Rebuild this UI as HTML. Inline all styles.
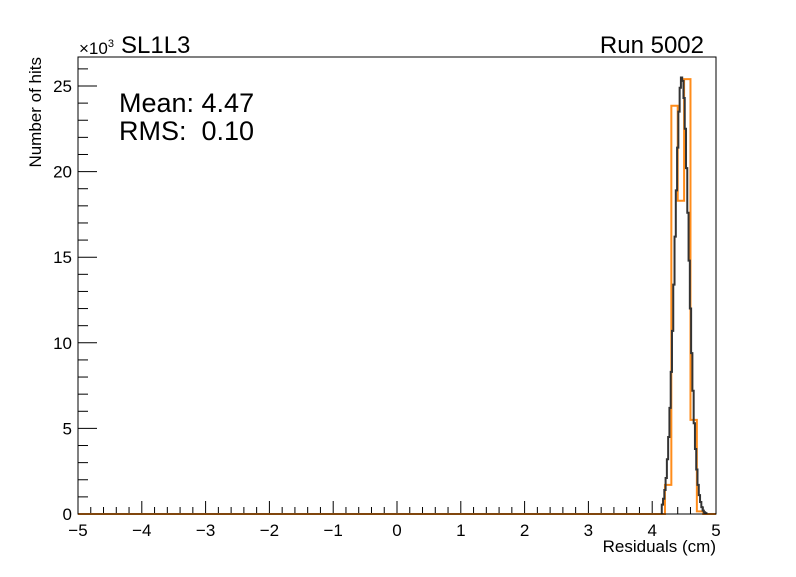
<!DOCTYPE html>
<html><head><meta charset="utf-8"><style>
body{margin:0;background:#fff;}
svg text{font-family:"Liberation Sans",sans-serif;}
</style></head><body>
<svg id="c" width="796" height="572" xmlns="http://www.w3.org/2000/svg">
<rect width="796" height="572" fill="#fff"/>
<g id="axes"></g>
<g id="marks"></g>
<rect x="78" y="57" width="638" height="457" fill="none" stroke="#000" stroke-width="1"/>
<text x="79" y="54" font-size="17">×10<tspan font-size="11" dy="-7">3</tspan></text>
<text x="121" y="53" font-size="24">SL1L3</text>
<text x="704" y="53" font-size="24" text-anchor="end">Run 5002</text>
<text x="119" y="112" font-size="27">Mean: 4.47</text>
<text x="119" y="140" font-size="27">RMS:&#160; 0.10</text>
<text x="716" y="552" font-size="17" text-anchor="end">Residuals (cm)</text>
<text transform="translate(41,57) rotate(-90)" font-size="17" text-anchor="end">Number of hits</text>
</svg>
<script>
const xTicks=[-5,-4,-3,-2,-1,0,1,2,3,4,5];
const yTicks=[0,5,10,15,20,25];
const coarseEdges=[4.2,4.3,4.4,4.5,4.6,4.7,4.8];
const coarseCounts=[1.7,23.85,18.3,25.4,5.5,0.15];
const fineX=[4.16,4.18,4.20,4.22,4.24,4.26,4.28,4.30,4.32,4.34,4.36,4.38,4.40,4.42,4.44,4.46,4.48,4.50,4.52,4.54,4.56,4.58,4.60,4.62,4.64,4.66,4.68,4.70,4.72,4.74,4.76,4.78,4.80,4.82,4.84];
const fineY=[0.55,0.89,1.4,2.1,3.2,4.5,6.2,8.3,10.7,13.4,16.2,18.9,21.4,23.5,24.9,25.5,25.3,24.3,22.5,20.2,17.6,14.8,12.0,9.4,7.2,5.3,3.8,2.6,1.7,1.1,0.7,0.4,0.2,0.1,0.05];
const X=v=>78+(v+5)*63.8, Y=v=>514-v*17.12;
const NS="http://www.w3.org/2000/svg";
const ax=document.getElementById('axes'), mk=document.getElementById('marks');
function el(t,a,p){const e=document.createElementNS(NS,t);for(const k in a)e.setAttribute(k,a[k]);p.appendChild(e);return e;}
for(let i=0;i<=50;i++){const v=-5+i*0.2;const major=i%5===0;
 const l=el('line',{x1:X(v),x2:X(v),y1:514,y2:514-(major?13:7),stroke:'#000'},ax);
 
 }
xTicks.forEach(v=>{const t=el('text',{x:X(v),y:536,'font-size':17,'text-anchor':'middle'},ax);t.textContent=v<0?'\u2212'+(-v):v;
 
 });
for(let v=0;v<=26;v++){const major=v%5===0;
 const l=el('line',{x1:78,x2:78+(major?19:10),y1:Y(v),y2:Y(v),stroke:'#000'},ax);
 
 }
yTicks.forEach(v=>{const t=el('text',{x:72,y:Y(v)+6,'font-size':17,'text-anchor':'end'},ax);t.textContent=v;
 
 });
let d='M'+X(-5)+','+Y(0)+' L'+X(coarseEdges[0])+','+Y(0);
coarseCounts.forEach((c,i)=>{d+=' L'+X(coarseEdges[i])+','+Y(c)+' L'+X(coarseEdges[i+1])+','+Y(c);});
d+=' L'+X(coarseEdges[coarseEdges.length-1])+','+Y(0)+' L'+X(5)+','+Y(0);
const h=el('path',{d:d,fill:'none',stroke:'#ff8c1a','stroke-width':2},mk);


let d2='M'+X(fineX[0]-0.01)+','+Y(0);
fineX.forEach((x,i)=>{d2+=' L'+X(x-0.01)+','+Y(fineY[i])+' L'+X(x+0.01)+','+Y(fineY[i]);});
d2+=' L'+X(fineX[fineX.length-1]+0.01)+','+Y(0);
const f=el('path',{d:d2,fill:'none',stroke:'#333','stroke-width':2},mk);


</script>
</body></html>
